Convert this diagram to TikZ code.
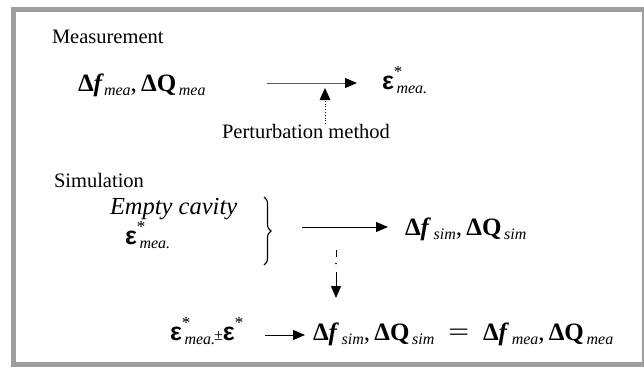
\documentclass[tikz,border=0pt]{standalone}
\usepackage{fontspec}
\setmainfont{Liberation Serif}
\newfontfamily\epsfont{Liberation Sans}
\usetikzlibrary{arrows.meta,decorations.pathreplacing}
\newcommand{\lblfont}{\fontsize{20.5}{22}\selectfont}
\newcommand{\eqfont}{\fontsize{25}{27}\selectfont}
\newcommand{\sbt}[1]{\raisebox{-0.35ex}{\fontsize{16}{17}\selectfont\itshape\mdseries #1}}
\newcommand{\epsb}{{\epsfont\bfseries\fontsize{25}{27}\selectfont ε}}
\newcommand{\epstar}[1]{\epsb\makebox[0pt][l]{\raisebox{1.0ex}{\fontsize{17}{17}\selectfont\mdseries *}}\sbt{\,#1}}
\newcommand{\dfb}{{\bfseries Δ\textit{f}}}
\newcommand{\dqb}{{\bfseries ΔQ}}
\begin{document}
\begin{tikzpicture}[x=1pt,y=-1pt,
  txt/.style={anchor=base west,inner sep=0pt,outer sep=0pt},
  arr/.style={line width=1pt,-{Triangle[length=12pt,width=10pt,color=black]}},
  frame/.style={draw=black!38,line width=5pt}]
\useasboundingbox (0,0) rectangle (644,367);
\clip (0,0) rectangle (644,367);
\draw[frame] (13.5,9.8) rectangle (644.2,364.8);

% Measurement section
\node[txt,font=\lblfont] (meas) at (52,43) {Measurement};
\node[txt,font=\eqfont] (dmea) at (78,91) {\dfb\sbt{mea},\,\dqb\sbt{\,mea}};
\coordinate (a1s) at (267,83);
\node[txt,font=\eqfont] (emea) at (382,89) {\epstar{mea.}};
\coordinate (a1e) at (357,83);
\draw[arr,draw=black!65] (a1s) -- (a1e);
\node[txt,font=\lblfont] (pert) at (222,138) {Perturbation method};
\coordinate (pup) at (325,88);
\draw[line width=0.8pt,dotted] (325,124) -- (325,99);
\fill (pup) -- (319.5,100) -- (330.5,100) -- cycle;

% Simulation section
\node[txt,font=\lblfont] (sim) at (54,187) {Simulation};
\node[txt,font=\fontsize{24.5}{26}\selectfont\itshape] (empty) at (110,214) {Empty cavity};
\node[txt,font=\eqfont] (esim) at (125,244) {\epstar{mea.}};
\draw[line width=1.1pt,decorate,decoration={brace,amplitude=7pt}] (264,197) -- (264,265);
\coordinate (a2s) at (302,227);
\coordinate (a2e) at (388,227);
\draw[arr] (a2s) -- (a2e);
\node[txt,font=\eqfont] (dsim) at (405,235) {\dfb\sbt{\,sim},\,\dqb\sbt{\,sim}};

% dash-dot down arrow
\coordinate (d1) at (336,250);
\coordinate (d2) at (336,298);
\draw[line width=1pt] (d1) -- (336,257);
\fill (336,263.5) circle (0.8);
\draw[arr] (336,272) -- (d2);

% bottom row
\node[txt,font=\eqfont] (b1) at (170,340) {\epstar{mea.}\hspace{-1pt}{\fontsize{16}{16}\selectfont ±}\epsb\raisebox{1.0ex}{\fontsize{17}{17}\selectfont *}};
\coordinate (a3s) at (265,335);
\coordinate (a3e) at (305,335);
\draw[arr] (a3s) -- (a3e);
\node[txt,font=\eqfont] (b2) at (313,340) {\dfb\sbt{\,sim},\,\dqb\sbt{\,sim}};
\node[txt,font=\eqfont] (b3) at (448,340) {\scalebox{1.5}[1]{=}};
\node[txt,font=\eqfont] (b4) at (483,340) {\dfb\sbt{\,mea},\,\dqb\sbt{\,mea}};
\end{tikzpicture}
\end{document}
